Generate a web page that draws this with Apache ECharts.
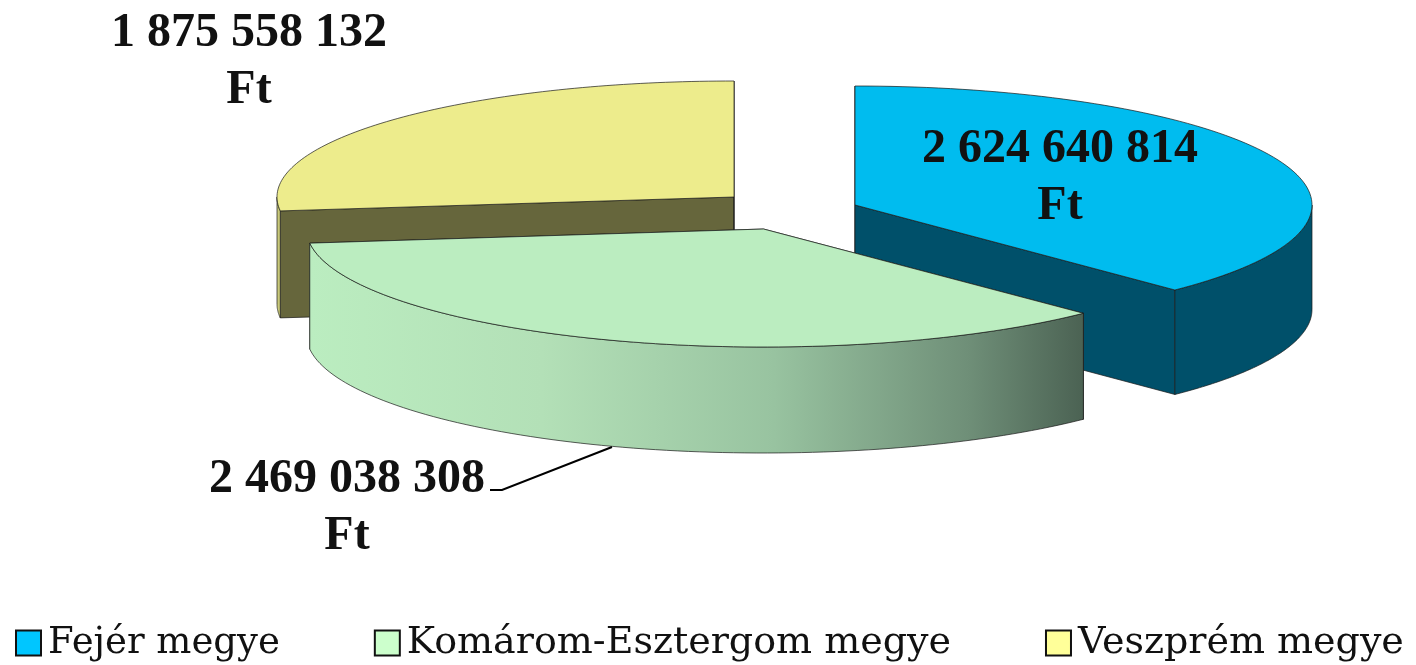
<!DOCTYPE html>
<html><head><meta charset="utf-8">
<style>html,body{margin:0;padding:0;background:#fff}#c{width:1416px;height:665px}</style>
<script src="https://cdn.jsdelivr.net/npm/echarts@6/dist/echarts.min.js"></script>
</head><body><div id="c"></div>
<script>
var categories = ['Fejér megye', 'Komárom-Esztergom megye', 'Veszprém megye'];
var values = [2624640814, 2469038308, 1875558132];
var unit = 'Ft';
var legendColors = ['#00C6FF', '#CCFFCC', '#FFFF99'];
var legendFontSizes = [37, 38, 38];
var topColors = ['#00BCEF', '#BBEDC0', '#EDEC8C'];
var wallColors = ['#00506A', null, '#66663C'];
var rimColors = ['#00506A', null, '#C9C97A'];
var centersX = [855, 763.5, 734];
var centersY = [205, 229, 197];
var radiiY = [119, 118, 116];
var depths = [104.5, 106, 107];
var labelX = [1060, 347, 249];
var labelY = [121, 451, 5];
var drawOrder = [2, 0, 1];
var RX = 457;
var EDGE = 'rgba(25,25,25,0.7)';
var total = values.reduce(function (a, b) { return a + b; }, 0);
var starts = [], acc = 0;
values.forEach(function (v) { starts.push(acc / total * Math.PI * 2); acc += v; });

function fmt(v) { return String(v).replace(/\B(?=(\d{3})+$)/g, ' '); }
function pt(i, a, dy) {
  return [centersX[i] + RX * Math.sin(a), centersY[i] - radiiY[i] * Math.cos(a) + (dy || 0)];
}
function arc(i, a0, a1, dy) {
  var out = [], n = 90;
  for (var k = 0; k <= n; k++) out.push(pt(i, a0 + (a1 - a0) * k / n, dy));
  return out;
}
var greenGrad = new echarts.graphic.LinearGradient(0, 0, 1, 0, [
  { offset: 0, color: '#BBEDC0' }, { offset: 0.3, color: '#B3E0B7' },
  { offset: 0.6, color: '#98C3A0' }, { offset: 0.85, color: '#6F8F78' }, { offset: 1, color: '#4B6253' }
]);

function makeRender(i) {
  return function (params, api) {
    var a0 = starts[i], a1 = a0 + api.value(0) / total * Math.PI * 2;
    var apex = [centersX[i], centersY[i]];
    var kids = [], d = depths[i];
    function poly(points, fill, z) {
      kids.push({ type: 'polygon', shape: { points: points }, z2: z,
        style: { fill: fill, stroke: EDGE, lineWidth: 1 } });
    }
    var wall = wallColors[i] || greenGrad, rim = rimColors[i] || greenGrad;
    [a0, a1].forEach(function (a) {
      var p = pt(i, a);
      poly([apex, p, [p[0], p[1] + d], [apex[0], apex[1] + d]], wall, 1);
    });
    var r0 = Math.max(a0, Math.PI / 2), r1 = Math.min(a1, Math.PI * 1.5);
    if (r1 > r0) poly(arc(i, r0, r1, 0).concat(arc(i, r1, r0, d)), rim, 2);
    poly([apex].concat(arc(i, a0, a1, 0)), topColors[i], 3);
    return { type: 'group', children: kids };
  };
}

var series = drawOrder.map(function (i) {
  return {
    type: 'custom', name: categories[i], coordinateSystem: 'none', silent: true,
    animation: false, z: 2 + drawOrder.indexOf(i),
    itemStyle: { color: legendColors[i] },
    encode: { value: 0 },
    data: [[values[i]]],
    renderItem: makeRender(i)
  };
});

var chart = echarts.init(document.getElementById('c'), null, { renderer: 'canvas' });
chart.setOption({
  animation: false,
  backgroundColor: '#fff',
  legend: {
    left: 15, top: 624, padding: 0, itemGap: 94, itemWidth: 25, itemHeight: 25,
    selectedMode: false, icon: 'rect',
    textStyle: { fontFamily: 'DejaVu Serif', fontSize: 38, color: '#111', padding: [0, 0, 0, 2] },
    data: categories.map(function (c, i) {
      return { name: c, itemStyle: { color: legendColors[i], borderColor: '#111', borderWidth: 2 },
        textStyle: { fontFamily: 'DejaVu Serif', fontSize: legendFontSizes[i], color: '#111', padding: [0, 0, 0, 2] } };
    })
  },
  series: series,
  graphic: [
    { type: 'polyline', z: 50, shape: { points: [[490, 490], [502, 490], [612, 447]] },
      style: { stroke: '#000', lineWidth: 2, fill: 'none' } }
  ].concat(values.map(function (v, i) {
    return { type: 'text', z: 60, x: labelX[i], y: labelY[i],
      style: { text: fmt(v) + '\n' + unit, align: 'center', textAlign: 'center', verticalAlign: 'top',
        font: 'bold 48px "Liberation Serif"', lineHeight: 57, fill: '#111' } };
  }))
});
</script></body></html>
